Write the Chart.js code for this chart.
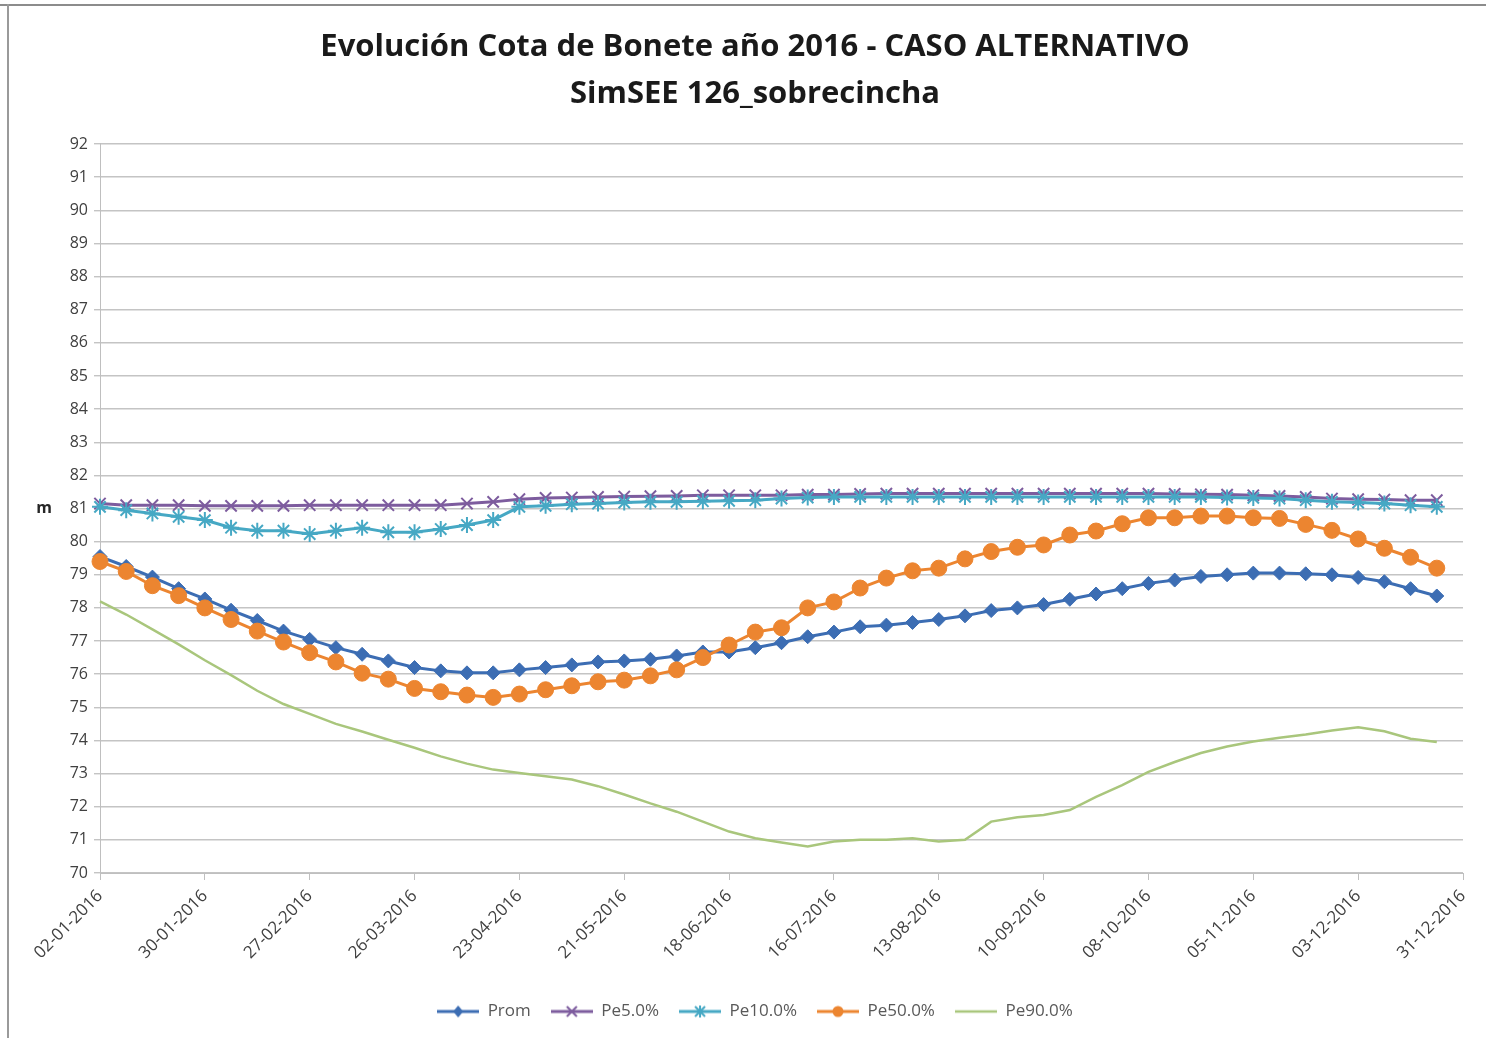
<!DOCTYPE html>
<html>
<head>
<meta charset="utf-8">
<script src="https://cdn.jsdelivr.net/npm/chart.js@4.4.1/dist/chart.umd.min.js"></script>
<style>
  html, body { margin: 0; padding: 0; background: #fff; }
  #wrap { position: relative; width: 1486px; height: 1038px; overflow: hidden; }
  #frameTop { position: absolute; left: 0; top: 4px; width: 1486px; height: 2px; background: #8c8c8c; }
  #frameLeft { position: absolute; left: 7px; top: 4px; width: 2px; height: 1034px; background: #9a9a9a; }
  canvas { position: absolute; left: 0; top: 0; }
</style>
</head>
<body>
<div id="wrap">
  <canvas id="c" width="1486" height="1038"></canvas>
  <div id="frameTop"></div>
  <div id="frameLeft"></div>
</div>
<script>
// ---- Data ----
const weekLabels = ["02-01-2016","09-01-2016","16-01-2016","23-01-2016","30-01-2016","06-02-2016","13-02-2016","20-02-2016","27-02-2016","05-03-2016","12-03-2016","19-03-2016","26-03-2016","02-04-2016","09-04-2016","16-04-2016","23-04-2016","30-04-2016","07-05-2016","14-05-2016","21-05-2016","28-05-2016","04-06-2016","11-06-2016","18-06-2016","25-06-2016","02-07-2016","09-07-2016","16-07-2016","23-07-2016","30-07-2016","06-08-2016","13-08-2016","20-08-2016","27-08-2016","03-09-2016","10-09-2016","17-09-2016","24-09-2016","01-10-2016","08-10-2016","15-10-2016","22-10-2016","29-10-2016","05-11-2016","12-11-2016","19-11-2016","26-11-2016","03-12-2016","10-12-2016","17-12-2016","24-12-2016","31-12-2016"];

const seriesNames = ["Prom", "Pe5.0%", "Pe10.0%", "Pe50.0%", "Pe90.0%"];

const prom = [79.55,79.25,78.93,78.58,78.27,77.93,77.62,77.30,77.05,76.80,76.60,76.40,76.20,76.10,76.04,76.04,76.13,76.20,76.28,76.37,76.40,76.45,76.55,76.67,76.67,76.80,76.95,77.13,77.27,77.43,77.48,77.56,77.65,77.76,77.92,78.00,78.10,78.26,78.42,78.58,78.74,78.84,78.95,79.00,79.05,79.05,79.03,79.00,78.92,78.79,78.58,78.36];

const pe5 = [81.15,81.10,81.10,81.10,81.08,81.08,81.08,81.08,81.10,81.10,81.10,81.10,81.10,81.10,81.15,81.20,81.28,81.32,81.33,81.35,81.36,81.37,81.38,81.40,81.40,81.40,81.40,81.42,81.42,81.44,81.45,81.45,81.45,81.45,81.45,81.45,81.45,81.45,81.45,81.45,81.45,81.44,81.43,81.42,81.40,81.38,81.35,81.30,81.28,81.27,81.25,81.25];

const pe10 = [81.05,80.95,80.85,80.75,80.65,80.42,80.33,80.33,80.23,80.33,80.42,80.28,80.28,80.38,80.50,80.65,81.05,81.08,81.13,81.15,81.18,81.20,81.20,81.22,81.23,81.25,81.30,81.33,81.35,81.35,81.35,81.35,81.35,81.35,81.35,81.35,81.35,81.35,81.35,81.35,81.35,81.35,81.35,81.33,81.32,81.30,81.25,81.20,81.18,81.15,81.10,81.05];

const pe50 = [79.40,79.10,78.67,78.37,78.00,77.65,77.30,76.97,76.65,76.37,76.03,75.85,75.57,75.47,75.37,75.30,75.40,75.53,75.65,75.77,75.82,75.95,76.13,76.50,76.88,77.27,77.40,78.00,78.18,78.60,78.90,79.12,79.20,79.48,79.70,79.83,79.90,80.20,80.32,80.54,80.72,80.72,80.77,80.77,80.72,80.70,80.52,80.34,80.08,79.80,79.53,79.20];

const pe90 = [78.20,77.80,77.35,76.90,76.42,75.97,75.50,75.10,74.80,74.50,74.27,74.02,73.78,73.52,73.30,73.12,73.02,72.92,72.82,72.62,72.37,72.10,71.85,71.55,71.25,71.05,70.92,70.80,70.95,71.00,71.00,71.05,70.95,71.00,71.55,71.68,71.75,71.90,72.30,72.65,73.05,73.35,73.62,73.82,73.97,74.08,74.18,74.30,74.40,74.28,74.05,73.95];

const yMin = 70, yMax = 92, yStep = 1;
const labelEvery = 4;
const titleLines = ["Evolución Cota de Bonete año 2016 - CASO ALTERNATIVO", "SimSEE 126_sobrecincha"];
const yAxisTitle = "m";

// ---- Styles ----
const colors = ["#3c6db3", "#7d5c9e", "#46a8c4", "#ec8530", "#a9c67c"];
const pointStyles = ["rectRot", "crossRot", "star", "circle", false];
const pointRadii = [7, 8, 8, 8, 0];
const lineWidths = [3, 3, 3, 3, 2.5];
const FONT = "'Open Sans', 'DejaVu Sans', sans-serif";

function legendIcon(i) {
  const c = document.createElement('canvas');
  c.width = 42; c.height = 18;
  const g = c.getContext('2d');
  g.strokeStyle = colors[i];
  g.fillStyle = colors[i];
  g.lineWidth = lineWidths[i];
  g.beginPath(); g.moveTo(0, 9); g.lineTo(42, 9); g.stroke();
  const cx = 21, cy = 9;
  g.lineWidth = 2;
  const st = pointStyles[i];
  if (st === 'rectRot') {
    g.beginPath(); g.moveTo(cx, cy - 6); g.lineTo(cx + 5, cy); g.lineTo(cx, cy + 6); g.lineTo(cx - 5, cy); g.closePath(); g.fill();
  } else if (st === 'crossRot') {
    g.beginPath(); g.moveTo(cx - 5, cy - 5); g.lineTo(cx + 5, cy + 5); g.moveTo(cx + 5, cy - 5); g.lineTo(cx - 5, cy + 5); g.stroke();
  } else if (st === 'star') {
    g.beginPath(); g.moveTo(cx - 5, cy - 5); g.lineTo(cx + 5, cy + 5); g.moveTo(cx + 5, cy - 5); g.lineTo(cx - 5, cy + 5);
    g.moveTo(cx, cy - 6); g.lineTo(cx, cy + 6); g.stroke();
  } else if (st === 'circle') {
    g.beginPath(); g.arc(cx, cy, 5.5, 0, Math.PI * 2); g.fill();
  }
  return c;
}

const seriesData = [prom, pe5, pe10, pe50, pe90];
const datasets = seriesData.map((d, i) => ({
  label: seriesNames[i],
  data: d,
  borderColor: colors[i],
  backgroundColor: colors[i],
  borderWidth: lineWidths[i],
  pointStyle: pointStyles[i],
  pointRadius: pointRadii[i],
  pointBorderWidth: (pointStyles[i] === 'crossRot' || pointStyles[i] === 'star') ? 2 : 1,
  pointBorderColor: colors[i],
  pointBackgroundColor: colors[i],
  tension: 0,
  order: 4 - i
}));

const yTitlePlugin = {
  id: 'yTitle',
  afterDraw(chart) {
    const g = chart.ctx;
    const y = chart.scales.y;
    g.save();
    g.font = "bold 16px " + FONT;
    g.fillStyle = "#262626";
    g.textAlign = "center";
    g.textBaseline = "middle";
    g.fillText(yAxisTitle, 44, y.getPixelForValue(81));
    g.restore();
  }
};

new Chart(document.getElementById('c'), {
  type: 'line',
  data: { labels: weekLabels, datasets },
  plugins: [yTitlePlugin],
  options: {
    responsive: false,
    animation: false,
    layout: { padding: { left: 47, right: 23, top: 0, bottom: 8 } },
    plugins: {
      title: {
        display: true,
        text: titleLines,
        color: "#1a1a1a",
        font: { family: FONT, size: 31, weight: 'bold', lineHeight: 1.516 },
        padding: { top: 23.5, bottom: 26.5 }
      },
      legend: {
        position: 'bottom',
        labels: {
          usePointStyle: true,
          pointStyleWidth: 42,
          boxHeight: 18,
          color: "#595959",
          font: { family: FONT, size: 17 },
          padding: 20,
          generateLabels(chart) {
            return chart.data.datasets.map((ds, i) => ({
              text: ds.label,
              pointStyle: legendIcon(i),
              fillStyle: colors[i],
              strokeStyle: colors[i],
              lineWidth: 0,
              hidden: false,
              datasetIndex: i,
              fontColor: "#595959"
            }));
          }
        }
      },
      tooltip: { enabled: false }
    },
    scales: {
      x: {
        type: 'category',
        offset: false,
        afterFit(scale) { scale.height = 110; },
        grid: {
          drawOnChartArea: false,
          drawTicks: true,
          tickLength: 7,
          color: (ctx) => (ctx.index % labelEvery === 0 ? "#bfbfbf" : "rgba(0,0,0,0)")
        },
        border: { display: true, color: "#bfbfbf", width: 1 },
        ticks: {
          autoSkip: false,
          minRotation: 45,
          maxRotation: 45,
          color: "#404040",
          font: { family: FONT, size: 17 },
          padding: 6,
          callback(value, index) { return index % labelEvery === 0 ? weekLabels[index] : ''; }
        }
      },
      y: {
        min: yMin,
        max: yMax,
        afterFit(scale) { scale.width = 53; },
        grid: {
          color: "#c4c4c4",
          lineWidth: 1.4,
          tickLength: 6,
          drawTicks: true
        },
        border: { display: true, color: "#bfbfbf", width: 1 },
        ticks: {
          stepSize: yStep,
          color: "#404040",
          font: { family: FONT, size: 16 },
          padding: 6
        }
      }
    }
  }
});
</script>
</body>
</html>
